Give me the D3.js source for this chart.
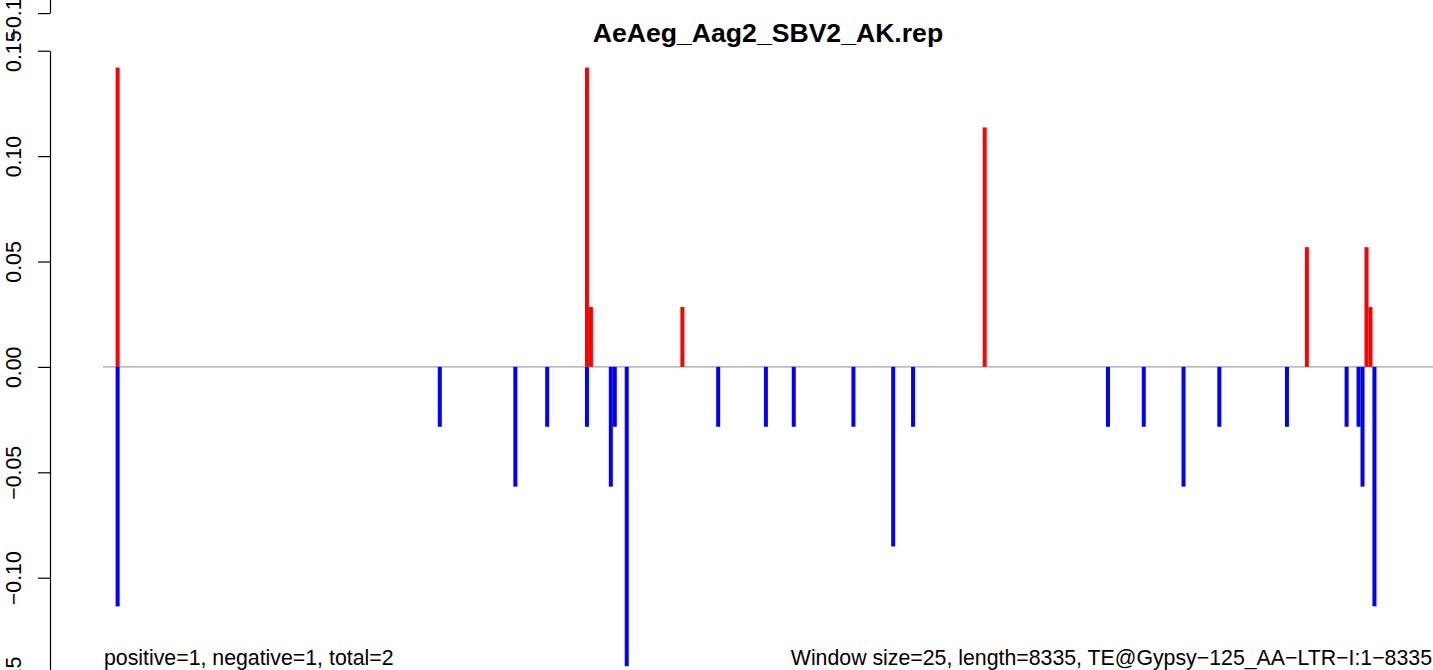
<!DOCTYPE html>
<html>
<head>
<meta charset="utf-8">
<script src="https://cdn.jsdelivr.net/npm/d3@7"></script>
<style>
  body { margin: 0; background: #fff; }
  svg { display: block; font-family: "Liberation Sans", Arial, Helvetica, sans-serif; }
</style>
</head>
<body>
<div id="chart"></div>
<script>
// window starts (bp) and per-window values
var windowSize = 25;
var seqLength = 8335;

var posStarts = [75, 3025, 3050, 3625, 5525, 7550, 7925, 7950];
var posValues = [0.142, 0.142, 0.0284, 0.0284, 0.1136, 0.0568, 0.0568, 0.0284];

var negStarts = [75, 2100, 2575, 2775, 3025, 3175, 3200, 3275, 3850, 4150, 4325, 4700,
  4950, 5075, 6300, 6525, 6775, 7000, 7425, 7800, 7875, 7900, 7975];
var negValues = [-0.1136, -0.0284, -0.0568, -0.0284, -0.0284, -0.0568, -0.0284, -0.142,
  -0.0284, -0.0284, -0.0284, -0.0284, -0.0852, -0.0284, -0.0284, -0.0284, -0.0568,
  -0.0284, -0.0284, -0.0284, -0.0284, -0.0568, -0.1136];

var yTicks = [-0.15, -0.10, -0.05, 0, 0.05, 0.10, 0.15];

var titleText = "AeAeg_Aag2_SBV2_AK.rep";
var leftNote = "positive=1, negative=1, total=2";
var rightNote = "Window size=25, length=8335, TE@Gypsy\u2212125_AA\u2212LTR\u2212I:1\u22128335";

var svgWidth = 1433;
var svgHeight = 670;

var plot = { left: 103, right: 1433 };

var svg = d3.select("#chart")
  .append("svg")
  .attr("width", svgWidth)
  .attr("height", svgHeight);

// x runs over the sequence, one extra window at the end
var xScale = d3.scaleLinear()
  .domain([0, seqLength + windowSize])
  .range([plot.left + 0.7, plot.right + 0.7]);

var yScale = d3.scaleLinear()
  .domain([-0.15, 0.15])
  .range([683.1, 50.7]);

// the panel above this one is cut off; only the foot of its axis shows
var yAbove = yScale.copy().range([683.1 - svgHeight, 50.7 - svgHeight]);

var barW = 4;

// zero line
svg.append("line")
  .attr("x1", plot.left)
  .attr("x2", plot.right)
  .attr("y1", yScale(0))
  .attr("y2", yScale(0))
  .attr("stroke", "#a3a3a3")
  .attr("stroke-width", 1.4);

svg.append("g").selectAll("rect")
  .data(negStarts.map((s, i) => ({ s: s, v: negValues[i] })))
  .enter()
  .append("rect")
  .attr("x", d => xScale(d.s + windowSize / 2) - barW / 2)
  .attr("y", yScale(0))
  .attr("width", barW)
  .attr("height", d => yScale(d.v) - yScale(0))
  .attr("fill", "#0000ff");

svg.append("g").selectAll("rect")
  .data(posStarts.map((s, i) => ({ s: s, v: posValues[i] })))
  .enter()
  .append("rect")
  .attr("x", d => xScale(d.s + windowSize / 2) - barW / 2)
  .attr("y", d => yScale(d.v))
  .attr("width", barW)
  .attr("height", d => yScale(0) - yScale(d.v))
  .attr("fill", "#ff0000");

// y axes, R style with rotated labels
function drawAxis(scale) {
  var g = svg.append("g")
    .attr("transform", "translate(50,0)")
    .call(d3.axisLeft(scale)
      .tickValues(yTicks)
      .tickFormat(d3.format(".2f"))
      .tickSize(12)
      .tickSizeOuter(0));
  g.select(".domain").attr("stroke", "#000").attr("stroke-width", 1.2);
  g.selectAll(".tick line").attr("stroke", "#000").attr("stroke-width", 1.2);
  g.selectAll(".tick text")
    .attr("transform", "rotate(-90)")
    .attr("x", 0)
    .attr("y", -29)
    .attr("dy", null)
    .attr("text-anchor", "middle")
    .attr("fill", "#000")
    .style("font-size", "21.3px")
    .style("font-family", "'Liberation Sans', Arial, sans-serif");
}
drawAxis(yScale);
drawAxis(yAbove);

svg.append("text")
  .attr("x", (plot.left + plot.right) / 2)
  .attr("y", 42)
  .attr("text-anchor", "middle")
  .style("font-size", "26.6px")
  .style("font-weight", "bold")
  .text(titleText);

svg.append("text")
  .attr("x", plot.left + 1)
  .attr("y", 665)
  .style("font-size", "21.3px")
  .text(leftNote);

svg.append("text")
  .attr("x", plot.right - 1)
  .attr("y", 665)
  .attr("text-anchor", "end")
  .style("font-size", "21.3px")
  .text(rightNote);
</script>
</body>
</html>
